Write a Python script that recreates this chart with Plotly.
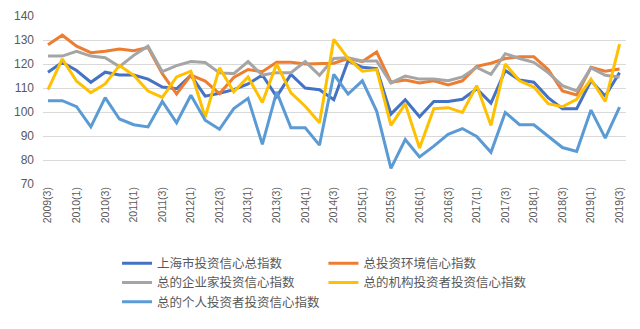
import plotly.graph_objects as go

quarters = [
    "2009(3)", "2009(4)", "2010(1)", "2010(2)", "2010(3)", "2010(4)",
    "2011(1)", "2011(2)", "2011(3)", "2011(4)", "2012(1)", "2012(2)",
    "2012(3)", "2012(4)", "2013(1)", "2013(2)", "2013(3)", "2013(4)",
    "2014(1)", "2014(2)", "2014(3)", "2014(4)", "2015(1)", "2015(2)",
    "2015(3)", "2015(4)", "2016(1)", "2016(2)", "2016(3)", "2016(4)",
    "2017(1)", "2017(2)", "2017(3)", "2017(4)", "2018(1)", "2018(2)",
    "2018(3)", "2018(4)", "2019(1)", "2019(2)", "2019(3)",
]
tick_labels = quarters[::2]

shanghai_total = [116.6, 120.7, 117.3, 112.4, 116.6, 115.4, 115.4, 113.7, 110.4, 109.7,
                  115.3, 106.6, 107.8, 109.3, 111.7, 115.4, 106.4, 115.7, 110.0, 109.3,
                  105.1, 121.3, 118.6, 118.1, 99.1, 105.1, 98.0, 104.4, 104.4, 105.3,
                  109.7, 103.7, 117.3, 113.3, 112.4, 106.0, 101.4, 101.4, 113.0, 106.7,
                  116.4]
environment = [128.0, 132.0, 127.4, 124.7, 125.3, 126.2, 125.5, 126.9, 116.0, 107.5,
               115.4, 112.9, 107.7, 114.4, 117.7, 116.8, 120.7, 120.7, 120.0, 120.0,
               120.3, 122.3, 121.0, 125.0, 112.4, 113.3, 112.1, 113.0, 111.3, 113.0,
               119.0, 120.3, 122.3, 123.0, 123.0, 117.7, 108.8, 107.1, 118.6, 117.0,
               117.9]
entrepreneur = [123.3, 123.3, 125.3, 123.3, 122.6, 118.9, 123.6, 127.4, 116.8, 119.3,
                121.0, 120.6, 116.3, 116.0, 121.0, 115.4, 116.4, 116.4, 121.0, 115.3,
                122.3, 122.6, 121.3, 121.3, 112.1, 115.0, 113.7, 113.7, 113.0, 114.6,
                118.6, 115.7, 124.3, 122.3, 120.7, 116.4, 111.0, 108.8, 118.4, 115.3,
                114.6]
institutional = [109.3, 122.1, 112.8, 108.1, 111.7, 119.4, 115.3, 108.7, 106.1, 114.6,
                 117.0, 97.8, 118.4, 108.4, 114.6, 104.0, 120.0, 108.0, 102.4, 95.5,
                 130.3, 122.3, 117.0, 117.7, 94.4, 103.4, 85.0, 101.4, 101.8, 99.8,
                 111.0, 94.4, 120.0, 113.0, 110.4, 103.5, 102.2, 105.3, 113.7, 104.4,
                 128.3]
individual = [104.7, 104.7, 102.2, 93.8, 106.0, 97.1, 94.7, 93.8, 104.4, 95.5,
              107.0, 96.6, 92.8, 101.4, 105.7, 86.5, 108.4, 93.4, 93.4, 86.2,
              115.7, 107.5, 113.0, 100.4, 76.5, 88.5, 81.3, 85.8, 90.7, 93.1,
              89.8, 83.2, 99.8, 94.7, 94.7, 89.8, 85.2, 83.6, 100.8, 89.1,
              102.0]

series = [
    ("上海市投资信心总指数", shanghai_total, "#4472C4", "legend"),
    ("总投资环境信心指数", environment, "#ED7D31", "legend2"),
    ("总的企业家投资信心指数", entrepreneur, "#A5A5A5", "legend"),
    ("总的机构投资者投资信心指数", institutional, "#FFC000", "legend2"),
    ("总的个人投资者投资信心指数", individual, "#5B9BD5", "legend"),
]

fig = go.Figure()
for name, vals, color, leg in series:
    fig.add_trace(go.Scatter(
        x=quarters, y=vals, mode="lines", name=name,
        line=dict(color=color, width=3), legend=leg,
    ))

cjk = "Noto Sans CJK SC"
txt = "#595959"
legend_common = dict(
    orientation="v", yanchor="top", xanchor="left",
    font=dict(family=cjk, size=12.5, color=txt),
    bgcolor="rgba(0,0,0,0)", itemwidth=30, tracegroupgap=0,
)
fig.update_layout(
    width=640, height=329,
    margin=dict(l=43, r=14, t=9, b=145),
    paper_bgcolor="white", plot_bgcolor="white",
    showlegend=True,
    legend=dict(x=0.127, y=-0.385, **legend_common),
    legend2=dict(x=0.481, y=-0.385, **legend_common),
    xaxis=dict(
        type="category", range=[-0.35, 40.45],
        tickmode="array", tickvals=tick_labels, ticktext=tick_labels,
        tickangle=-90, showgrid=False, showline=False, ticks="",
        tickfont=dict(family="Liberation Sans", size=10.5, color=txt),
        zeroline=False,
    ),
    yaxis=dict(
        range=[70, 140], dtick=10, showgrid=True, gridcolor="#D9D9D9",
        gridwidth=1, zeroline=False, showline=False, ticks="",
        tickfont=dict(family="Liberation Sans", size=12, color=txt),
        ticklabelstandoff=8,
    ),
)
fig.write_html("out.html")
